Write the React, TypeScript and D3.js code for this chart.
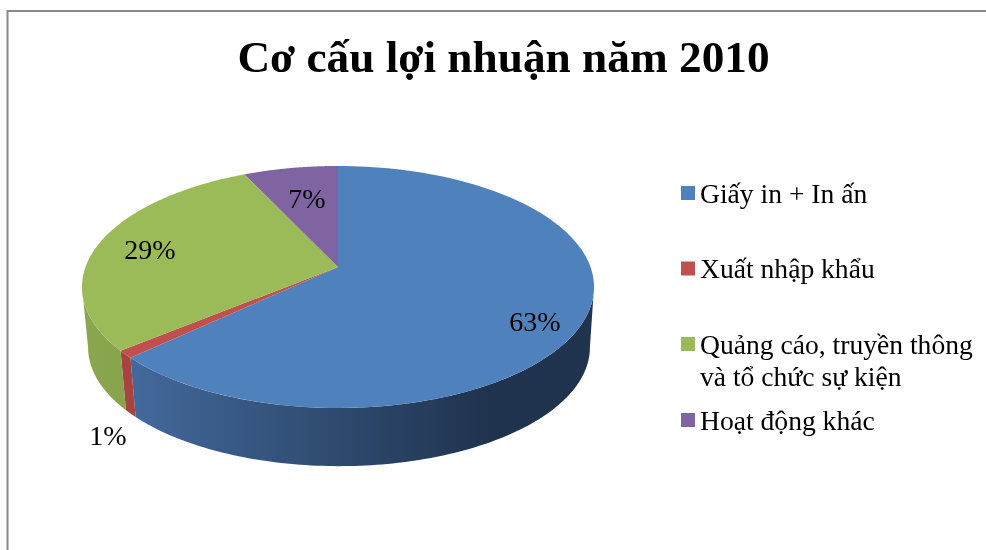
import React from "react";
import * as d3 from "d3";

const TITLE = "Cơ cấu lợi nhuận năm 2010";
const categories = ["Giấy in + In ấn", "Xuất nhập khẩu", "Quảng cáo, truyền thông", "Hoạt động khác"];
const legendLines = [["Giấy in + In ấn"], ["Xuất nhập khẩu"], ["Quảng cáo, truyền thông", "và tổ chức sự kiện"], ["Hoạt động khác"]];
const values = [63, 1, 29, 7];
const topColors = ["#4f81bd", "#c0504d", "#9bbb59", "#8064a2"];
const sideStart = ["#43699c", "#a64441", "#8aa64e", "#71598f"];
const sideEnd = ["#1f334e", "#a64441", "#87a24c", "#71598f"];
const percentLabels = ["63%", "1%", "29%", "7%"];
const labelPos: [number, number][] = [[535, 331], [108, 445], [150, 259], [307, 208]];
const legendSwatchY = [193, 268.5, 344, 420];
const legendBaselines = [[203], [278], [354, 386], [430]];

const cx = 338, cy = 267, R = 252.5, A = 117.7, K = 0.165;
const bottomCx = 339, bottomCy = 328, bottomScale = 0.98;

function rim(theta: number, bottom: boolean): [number, number] {
  const c = Math.sin(theta), s = -Math.cos(theta);
  const d = 1 - K * s;
  const x = (R * c) / d, y = (A * s) / d;
  return bottom ? [bottomCx + x * bottomScale, bottomCy + y * bottomScale] : [cx + x, cy + y];
}
function arcPts(a0: number, a1: number, bottom: boolean): [number, number][] {
  return d3.range(0, 121).map((i) => rim(a0 + ((a1 - a0) * i) / 120, bottom));
}

export default function App() {
  const arcs = d3.pie<number>().sort(null)(values);
  const line = d3.line();
  const rightTangent = Math.PI / 2 + Math.asin(K);
  const leftTangent = (3 * Math.PI) / 2 - Math.asin(K);
  return (
    <svg width={986} height={550} style={{ position: "fixed", left: 0, top: 0, background: "#fff" }} fontFamily="'Liberation Serif', serif">
      <defs>
        {values.map((_, i) => (
          <linearGradient key={i} id={`side${i}`} gradientUnits="userSpaceOnUse" x1={i === 0 ? 130 : 85} x2={i === 0 ? 490 : 140} y1={0} y2={0}>
            <stop offset="0" stopColor={sideStart[i]} />
            <stop offset="1" stopColor={sideEnd[i]} />
          </linearGradient>
        ))}
        <filter id="soft" x="-5%" y="-20%" width="110%" height="140%">
          <feGaussianBlur stdDeviation="0.35" />
        </filter>
      </defs>
      <path d="M7.5 550V11H986" fill="none" stroke="#8a8a8a" strokeWidth={2} />
      <text x={503.5} y={72} textAnchor="middle" fontSize={45.3} fontWeight="bold" fill="#000" filter="url(#soft)">{TITLE}</text>

      {arcs.map((a, i) => {
        const a0 = Math.max(a.startAngle, rightTangent), a1 = Math.min(a.endAngle, leftTangent);
        if (a1 <= a0) return null;
        const pts = [...arcPts(a0, a1, false), ...arcPts(a0, a1, true).reverse()];
        return <path key={i} d={line(pts) + "Z"} fill={`url(#side${i})`} />;
      })}
      {arcs.map((a, i) => (
        <path key={i} d={line([[cx, cy], ...arcPts(a.startAngle, a.endAngle, false)]) + "Z"} fill={topColors[i]} />
      ))}
      {percentLabels.map((t, i) => (
        <text key={i} x={labelPos[i][0]} y={labelPos[i][1]} textAnchor="middle" fontSize={28} fill="#000" filter="url(#soft)">{t}</text>
      ))}
      {categories.map((c, i) => (
        <g key={c}>
          <rect x={681} y={legendSwatchY[i] - 7} width={14} height={14} fill={topColors[i]} />
          {legendLines[i].map((l, j) => (
            <text key={j} x={700} y={legendBaselines[i][j]} fontSize={27.6} fill="#000" filter="url(#soft)">{l}</text>
          ))}
        </g>
      ))}
    </svg>
  );
}
